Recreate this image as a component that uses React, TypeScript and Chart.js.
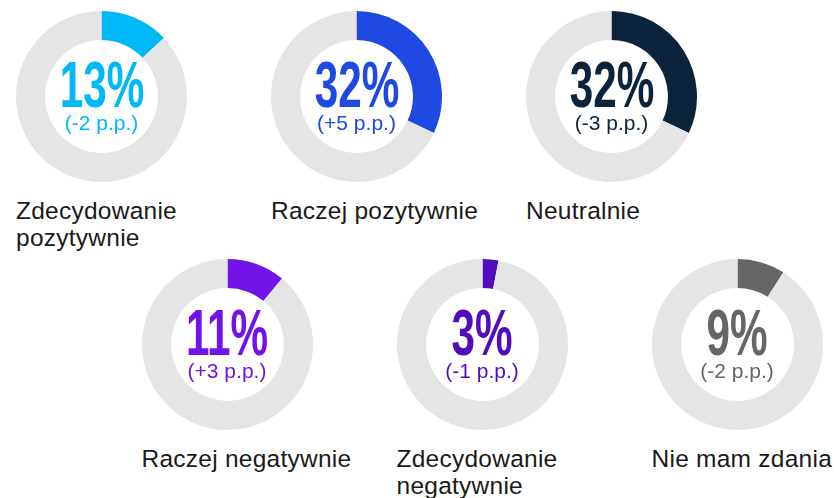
import React, { useEffect, useRef } from "react";
import { Chart, registerables } from "chart.js";

Chart.register(...registerables);

const categories = [
  "Zdecydowanie\npozytywnie",
  "Raczej pozytywnie",
  "Neutralnie",
  "Raczej negatywnie",
  "Zdecydowanie\nnegatywnie",
  "Nie mam zdania",
];
const shares = [13, 32, 32, 11, 3, 9];
const changes = ["(-2 p.p.)", "(+5 p.p.)", "(-3 p.p.)", "(+3 p.p.)", "(-1 p.p.)", "(-2 p.p.)"];
const colors = ["#00B8F5", "#1E49E2", "#0C233C", "#7213EA", "#510DBC", "#666666"];
const ringColor = "#E5E5E5";

// layout (centres of each donut in px)
const centersX = [101.5, 356.5, 611.5, 227, 482, 737];
const centersY = [96.5, 96.5, 96.5, 344.5, 344.5, 344.5];
const SIZE = 171;
const R = SIZE / 2;

function Donut({ idx }: { idx: number }) {
  const ref = useRef<HTMLCanvasElement | null>(null);
  useEffect(() => {
    if (!ref.current) return;
    const chart = new Chart(ref.current, {
      type: "doughnut",
      data: {
        labels: [categories[idx], ""],
        datasets: [
          {
            data: [shares[idx], 100 - shares[idx]],
            backgroundColor: [colors[idx], ringColor],
            borderWidth: 0,
            hoverOffset: 0,
          },
        ],
      },
      options: {
        responsive: false,
        animation: false,
        cutout: "66%",
        events: [],
        layout: { padding: 0 },
        plugins: { legend: { display: false }, tooltip: { enabled: false } },
      },
    });
    return () => chart.destroy();
  }, [idx]);

  const cx = centersX[idx];
  const cy = centersY[idx];
  const bigF = 64;
  const smallF = 21;
  const labelF = 24.5;
  return (
    <>
      <canvas
        ref={ref}
        width={SIZE}
        height={SIZE}
        style={{ position: "absolute", left: cx - R, top: cy - R, width: SIZE, height: SIZE }}
      />
      <div
        style={{
          position: "absolute",
          left: cx - 100,
          width: 200,
          top: cy + 11 - 0.8465 * bigF,
          fontFamily: "'Liberation Sans', Arial, sans-serif",
          fontWeight: 700,
          fontSize: bigF,
          lineHeight: bigF + "px",
          textAlign: "center",
          color: colors[idx],
          transform: "scaleX(0.66)",
          transformOrigin: "center",
          whiteSpace: "nowrap",
        }}
      >
        {shares[idx] + "%"}
      </div>
      <div
        style={{
          position: "absolute",
          left: cx - 100,
          width: 200,
          top: cy + 33.5 - 0.8465 * smallF,
          fontFamily: "'Liberation Sans', Arial, sans-serif",
          fontSize: smallF,
          lineHeight: smallF + "px",
          textAlign: "center",
          color: colors[idx],
          whiteSpace: "nowrap",
        }}
      >
        {changes[idx]}
      </div>
      <div
        style={{
          position: "absolute",
          left: cx - R,
          top: cy + R + 36.5 - 21.8,
          fontFamily: "'Liberation Sans', Arial, sans-serif",
          fontSize: labelF,
          lineHeight: "27px",
          letterSpacing: "0.25px",
          color: "#1a1a1a",
          whiteSpace: "pre",
        }}
      >
        {categories[idx]}
      </div>
    </>
  );
}

export default function App() {
  return (
    <div
      style={{
        position: "absolute",
        left: 0,
        top: 0,
        width: 834,
        height: 498,
        background: "#ffffff",
        overflow: "hidden",
      }}
    >
      {categories.map((_, i) => (
        <Donut key={i} idx={i} />
      ))}
    </div>
  );
}
